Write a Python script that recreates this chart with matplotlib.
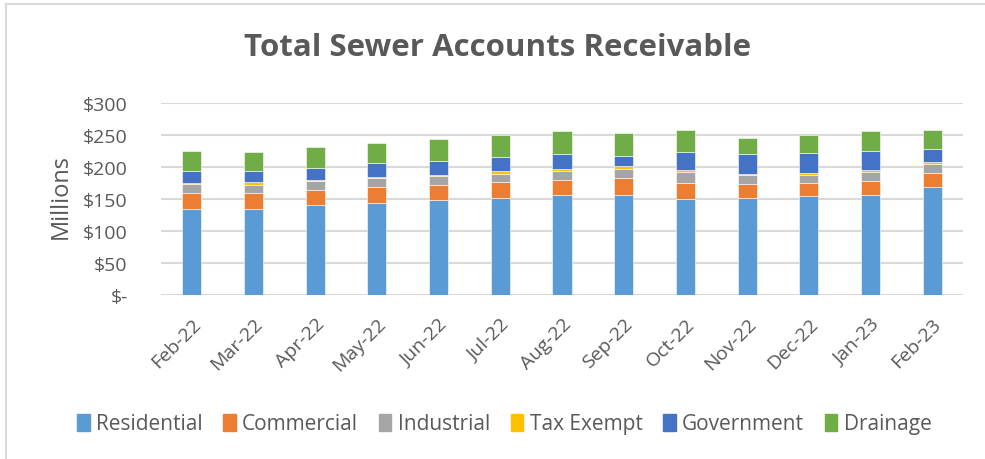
import matplotlib
matplotlib.use("Agg")
import matplotlib.pyplot as plt
import numpy as np
from matplotlib.lines import Line2D

months = ["Feb-22", "Mar-22", "Apr-22", "May-22", "Jun-22", "Jul-22", "Aug-22",
          "Sep-22", "Oct-22", "Nov-22", "Dec-22", "Jan-23", "Feb-23"]
residential = [135, 135, 140, 144, 148, 151.5, 156, 157, 150, 151.5, 154, 156, 168]
commercial = [25, 25, 24, 24, 24, 24.5, 24, 26.5, 25.5, 22, 21, 22, 22]
industrial = [14, 12, 14, 14.5, 14, 13.5, 14, 14, 16, 14, 12, 14, 14]
tax_exempt = [1.5, 4, 2, 1.5, 2, 4, 3.5, 3.5, 3.5, 1.5, 4, 3.5, 4]
government = [18, 18, 19, 22, 22, 22, 22.5, 15.5, 29, 31, 31, 30, 20]
drainage = [32, 30, 32, 32, 34, 34, 36, 36.5, 34, 26, 27.5, 30, 30]

series_names = ["Residential", "Commercial", "Industrial", "Tax Exempt", "Government", "Drainage"]
series_vals = [residential, commercial, industrial, tax_exempt, government, drainage]
colors = ["#5B9BD5", "#ED7D31", "#A5A5A5", "#FFC000", "#4472C4", "#70AD47"]
yticks = [0, 50, 100, 150, 200, 250, 300]
ytick_labels = ["$-", "$50", "$100", "$150", "$200", "$250", "$300"]

plt.rcParams['font.family'] = ['Open Sans', 'DejaVu Sans']
txt = "#595959"

fig = plt.figure(figsize=(9.85, 4.6), dpi=100)
ax = fig.add_axes([161/985, 1 - 296/460, (963-161)/985, 192/460])

x = np.arange(len(months))
bottom = np.zeros(len(months))
for name, vals, c in zip(series_names, series_vals, colors):
    v = np.array(vals, dtype=float)
    ax.bar(x, v, bottom=bottom, width=0.31, color=c, edgecolor="white",
           linewidth=0.4, label=name, zorder=3)
    bottom += v

ax.set_xlim(-0.5, len(months) - 0.5)
ax.set_ylim(0, 300)
ax.set_yticks(yticks)
ax.set_yticklabels(ytick_labels, fontsize=14, color=txt)
ax.set_xticks(x)
ax.set_xticklabels(months, fontsize=14, color=txt, rotation=45, ha="right",
                   rotation_mode="anchor")
ax.tick_params(axis="both", length=0)
ax.tick_params(axis="x", pad=14)
ax.tick_params(axis="y", pad=24)
ax.grid(axis="y", color="#D9D9D9", linewidth=1.5, zorder=0)
for s in ax.spines.values():
    s.set_visible(False)
ax.set_ylabel("Millions", fontsize=17, color=txt)
ax.yaxis.set_label_coords(-0.11, 0.52)

fig.text(0.505, 1 - 48/460, "Total Sewer Accounts Receivable", ha="center", va="center",
         fontsize=22.5, fontweight="bold", color=txt)

handles = [plt.Rectangle((0, 0), 1, 1, color=c) for c in colors]
fig.legend(handles, series_names, loc="center", bbox_to_anchor=(0.512, 1 - 425/460),
           ncol=6, frameon=False, fontsize=15, labelcolor=txt, handlelength=0.6,
           handleheight=0.9, handletextpad=0.3, columnspacing=1.0)

# chart border (left and top visible)
fig.add_artist(Line2D([6/985, 6/985], [0, 1 - 5/460], transform=fig.transFigure,
                      color="#D9D9D9", linewidth=1.5))
fig.add_artist(Line2D([6/985, 1], [1 - 5/460, 1 - 5/460], transform=fig.transFigure,
                      color="#D9D9D9", linewidth=1.5))

fig.savefig("out.png", dpi=100, facecolor="white")
